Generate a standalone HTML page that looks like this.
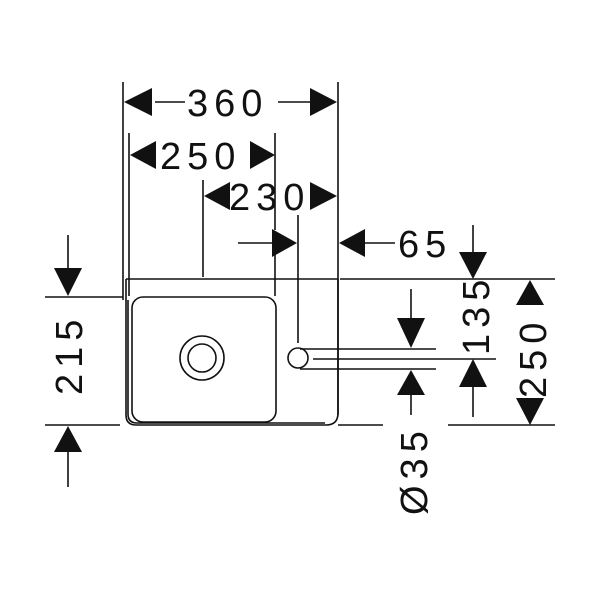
<!DOCTYPE html>
<html><head><style>body{margin:0;background:#fff}svg{display:block}</style></head><body>
<svg width="600" height="600" viewBox="0 0 600 600" xmlns="http://www.w3.org/2000/svg">
<g stroke="#111" stroke-width="1.6" fill="none">
<line x1="123" y1="82" x2="123" y2="300"/>
<line x1="129" y1="133" x2="129" y2="296"/>
<line x1="203" y1="180" x2="203" y2="277"/>
<line x1="275" y1="133" x2="275" y2="230"/>
<line x1="275" y1="255" x2="275" y2="296"/>
<line x1="298" y1="215" x2="298" y2="343"/>
<line x1="338" y1="82" x2="338" y2="415"/>
<line x1="126" y1="279" x2="338" y2="279"/>
<line x1="340" y1="279" x2="555" y2="279"/>
<path d="M126 279 V415 Q126 425 136 425 H326 Q338 425 338 413 V279"/>
<path d="M128 300 V414 Q128 423 137 423 H325"/>
<rect x="132" y="297" width="144" height="125" rx="11"/>
<circle cx="202" cy="358" r="22"/>
<circle cx="202" cy="358" r="14"/>
<circle cx="298" cy="358" r="10"/>
<line x1="300" y1="349" x2="436" y2="349"/>
<line x1="313" y1="359" x2="496" y2="359"/>
<line x1="300" y1="369" x2="436" y2="369"/>
<line x1="45" y1="297" x2="123" y2="297"/>
<line x1="45" y1="425" x2="120" y2="425"/>
<line x1="338" y1="425" x2="383" y2="425"/>
<line x1="448" y1="425" x2="555" y2="425"/>
<line x1="155" y1="102" x2="185" y2="102"/>
<line x1="278" y1="102" x2="310" y2="102"/>
<line x1="238" y1="243" x2="272" y2="243"/>
<line x1="365" y1="243" x2="395" y2="243"/>
<line x1="473" y1="225" x2="473" y2="252"/>
<line x1="473" y1="387" x2="473" y2="417"/>
<line x1="411" y1="289" x2="411" y2="318"/>
<line x1="411" y1="395" x2="411" y2="415"/>
<line x1="68" y1="235" x2="68" y2="268"/>
<line x1="68" y1="452" x2="68" y2="487"/>
</g>
<g fill="#111">
<polygon points="124,102 152,88 152,116"/>
<polygon points="337,102 310,88 310,116"/>
<polygon points="130,155 156,141 156,169"/>
<polygon points="275,155 250,141 250,169"/>
<polygon points="204,196 230,182 230,210"/>
<polygon points="337,196 310,182 310,210"/>
<polygon points="297,243 272,229 272,257"/>
<polygon points="339,243 365,229 365,257"/>
<polygon points="473,279 459,252 487,252"/>
<polygon points="473,359 459,387 487,387"/>
<polygon points="530,280 516,305 544,305"/>
<polygon points="530,425 516,398 544,398"/>
<polygon points="411,348 397,318 425,318"/>
<polygon points="411,370 397,395 425,395"/>
<polygon points="68,296 54,268 82,268"/>
<polygon points="68,426 54,452 82,452"/>
</g>
<g font-family="Liberation Sans, sans-serif" font-size="38" fill="#111" letter-spacing="6">
<text x="187" y="116">360</text>
<text x="160" y="169">250</text>
<text x="229" y="210">230</text>
<text x="398" y="257">65</text>
<text transform="translate(489,355) rotate(-90)">135</text>
<text transform="translate(546,398) rotate(-90)">250</text>
<text transform="translate(427,515) rotate(-90)">Ø35</text>
<text transform="translate(82,395) rotate(-90)">215</text>
</g>
</svg>
</body></html>
